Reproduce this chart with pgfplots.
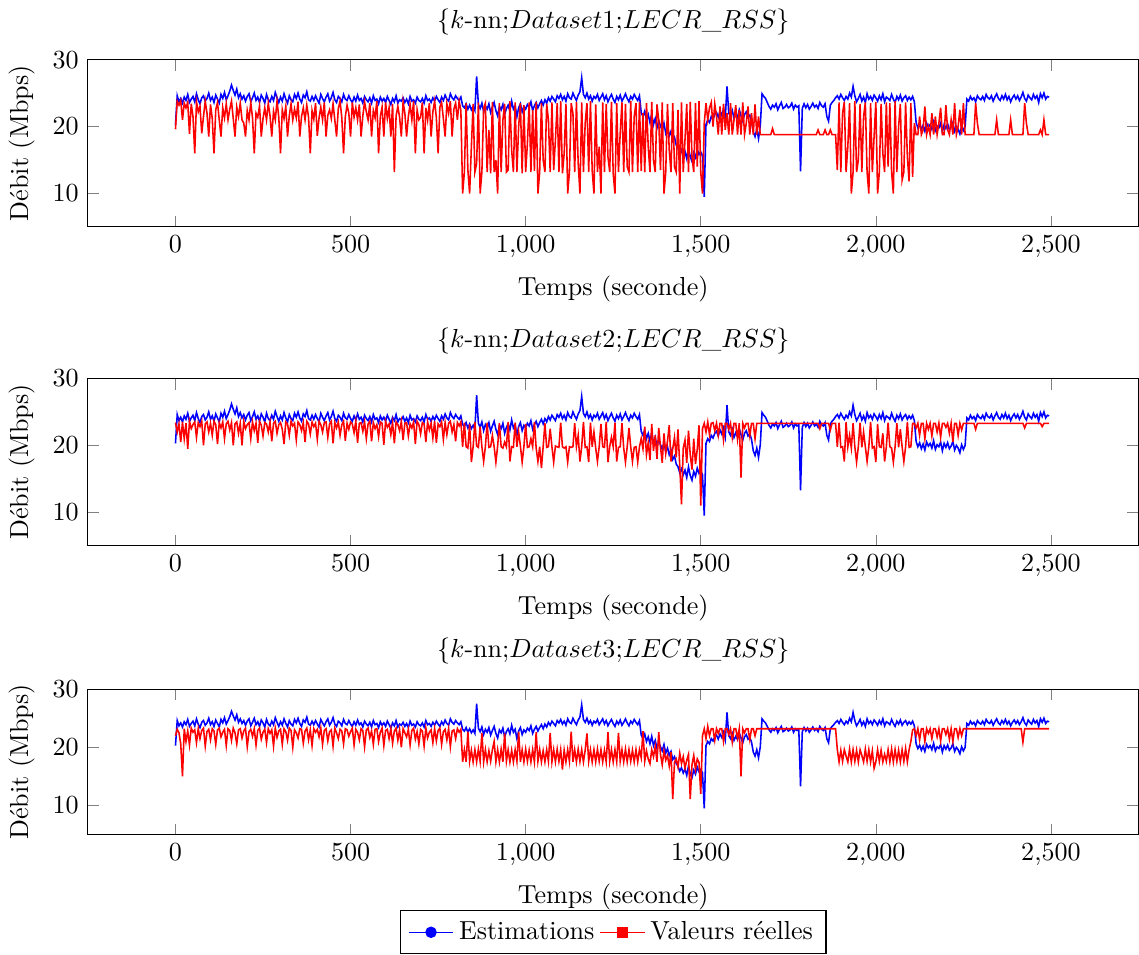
\documentclass[border=0pt]{standalone}
\usepackage{pgfplots}
\usepackage{pgfplotstable}
\pgfplotsset{compat=1.18}

% Estimations (same in the three panels)
\pgfplotstableread[row sep=\\]{t y\\
0 20.3\\5 24.6\\10 23.7\\15 24.2\\20 23.5\\25 24.4\\30 23.9\\35 24.8\\40 23.6\\45 24.1\\
50 24.5\\55 23.7\\60 24.9\\65 24.0\\70 23.4\\75 24.3\\80 24.6\\85 23.8\\90 24.2\\95 25.0\\
100 23.9\\105 24.4\\110 23.6\\115 24.7\\120 24.1\\125 23.5\\130 24.8\\135 24.2\\140 25.1\\145 24.0\\
150 24.6\\155 25.3\\160 26.2\\165 25.4\\170 24.7\\175 25.6\\180 24.3\\185 24.9\\190 24.1\\195 24.6\\
200 23.8\\205 24.5\\210 24.9\\215 23.7\\220 24.3\\225 25.0\\230 23.9\\235 24.4\\240 23.6\\245 24.7\\
250 24.2\\255 23.5\\260 24.8\\265 24.0\\270 23.7\\275 24.5\\280 23.9\\285 25.1\\290 24.3\\295 23.6\\
300 24.4\\305 23.8\\310 24.9\\315 24.1\\320 23.5\\325 24.6\\330 24.0\\335 23.7\\340 24.8\\345 24.2\\
350 25.0\\355 24.1\\360 23.6\\365 24.7\\370 24.3\\375 25.2\\380 24.0\\385 23.8\\390 24.5\\395 23.9\\
400 24.6\\405 24.0\\410 23.5\\415 24.8\\420 24.2\\425 23.7\\430 24.4\\435 24.9\\440 23.8\\445 24.3\\
450 25.1\\455 24.0\\460 23.6\\465 24.5\\470 24.2\\475 23.7\\480 24.8\\485 24.1\\490 23.9\\495 24.6\\
500 24.0\\505 23.6\\510 24.4\\515 23.8\\520 24.7\\525 23.9\\530 24.2\\535 23.5\\540 24.5\\545 24.0\\
550 23.7\\555 24.3\\560 23.5\\565 24.6\\570 23.9\\575 24.1\\580 23.4\\585 24.4\\590 23.8\\595 24.2\\
600 23.6\\605 24.5\\610 23.9\\615 23.3\\620 24.2\\625 23.7\\630 24.6\\635 23.5\\640 24.0\\645 23.8\\
650 24.3\\655 23.6\\660 24.1\\665 23.4\\670 24.5\\675 23.8\\680 24.0\\685 23.5\\690 24.4\\695 23.9\\
700 23.7\\705 24.2\\710 23.5\\715 24.6\\720 23.9\\725 24.1\\730 23.6\\735 24.3\\740 23.8\\745 24.5\\
750 24.0\\755 23.6\\760 24.4\\765 23.9\\770 24.7\\775 24.1\\780 23.8\\785 24.9\\790 24.3\\795 24.0\\
800 24.6\\805 24.2\\810 23.9\\815 24.4\\820 23.1\\825 22.8\\830 23.4\\835 22.6\\840 23.2\\845 22.5\\
850 23.0\\855 22.4\\860 27.5\\865 23.3\\870 22.7\\875 23.5\\880 22.2\\885 23.1\\890 22.6\\895 23.4\\
900 22.1\\905 22.9\\910 23.6\\915 22.4\\920 21.6\\925 23.0\\930 22.5\\935 23.3\\940 21.8\\945 22.7\\
950 23.2\\955 22.3\\960 23.8\\965 22.6\\970 23.1\\975 21.5\\980 22.8\\985 23.4\\990 22.2\\995 23.0\\
1000 22.6\\1005 23.3\\1010 22.9\\1015 23.7\\1020 22.4\\1025 23.1\\1030 23.6\\1035 22.8\\1040 23.4\\1045 23.9\\
1050 23.2\\1055 24.0\\1060 23.5\\1065 24.3\\1070 23.8\\1075 24.5\\1080 24.1\\1085 23.7\\1090 24.6\\1095 24.2\\
1100 24.8\\1105 24.0\\1110 24.5\\1115 23.8\\1120 24.9\\1125 24.3\\1130 24.1\\1135 25.0\\1140 24.4\\1145 23.9\\
1150 24.7\\1155 25.2\\1160 27.3\\1165 24.8\\1170 24.3\\1175 25.0\\1180 24.1\\1185 24.6\\1190 23.8\\1195 24.5\\
1200 24.2\\1205 24.8\\1210 23.9\\1215 24.4\\1220 24.9\\1225 24.0\\1230 24.6\\1235 23.7\\1240 24.3\\1245 24.8\\
1250 24.1\\1255 23.6\\1260 24.5\\1265 24.0\\1270 24.7\\1275 23.8\\1280 24.3\\1285 24.9\\1290 24.2\\1295 23.7\\
1300 24.5\\1305 24.1\\1310 24.8\\1315 24.3\\1320 23.9\\1325 24.6\\1330 22.1\\1335 21.5\\1340 22.3\\1345 21.0\\
1350 21.8\\1355 20.6\\1360 21.9\\1365 20.3\\1370 21.2\\1375 19.8\\1380 20.9\\1385 20.1\\1390 19.4\\1395 20.5\\
1400 19.0\\1405 19.8\\1410 18.6\\1415 19.3\\1420 17.9\\1425 18.4\\1430 17.2\\1435 16.8\\1440 15.9\\1445 16.5\\
1450 15.6\\1455 16.3\\1460 15.2\\1465 16.8\\1470 15.5\\1475 14.8\\1480 16.1\\1485 15.4\\1490 16.6\\1495 15.8\\
1500 16.2\\1505 15.6\\1510 9.5\\1515 20.3\\1520 21.0\\1525 20.6\\1530 21.5\\1535 21.1\\1540 21.8\\1545 22.1\\
1550 21.4\\1555 22.3\\1560 21.7\\1565 22.6\\1570 21.3\\1575 26.0\\1580 22.0\\1585 21.5\\1590 22.4\\1595 21.2\\
1600 21.9\\1605 21.3\\1610 22.5\\1615 21.6\\1620 20.8\\1625 21.8\\1630 22.2\\1635 21.4\\1640 21.7\\1645 20.9\\
1650 19.2\\1655 18.5\\1660 19.6\\1665 18.2\\1670 20.1\\1675 24.9\\1680 24.5\\1685 24.2\\1690 23.6\\1695 23.0\\
1700 22.6\\1705 23.2\\1710 22.9\\1715 23.4\\1720 22.5\\1725 23.1\\1730 23.6\\1735 22.7\\1740 22.9\\1745 23.3\\
1750 22.8\\1755 23.0\\1760 23.5\\1765 22.6\\1770 23.2\\1775 22.9\\1780 23.1\\1785 13.3\\1790 22.7\\1795 23.4\\
1800 22.8\\1805 23.3\\1810 22.6\\1815 23.0\\1820 23.5\\1825 22.9\\1830 23.2\\1835 22.7\\1840 23.6\\1845 23.1\\
1850 22.9\\1855 23.4\\1860 21.5\\1865 20.8\\1870 23.2\\1875 23.6\\1880 23.9\\1885 24.3\\1890 24.6\\1895 24.1\\
1900 24.8\\1905 24.3\\1910 23.9\\1915 24.5\\1920 24.1\\1925 25.0\\1930 24.4\\1935 26.0\\1940 24.6\\1945 23.7\\
1950 24.2\\1955 24.8\\1960 23.8\\1965 24.4\\1970 23.6\\1975 24.9\\1980 24.1\\1985 24.5\\1990 23.9\\1995 24.7\\
2000 24.3\\2005 23.8\\2010 24.6\\2015 24.0\\2020 24.9\\2025 23.7\\2030 24.4\\2035 24.2\\2040 23.9\\2045 24.8\\
2050 24.1\\2055 23.6\\2060 24.5\\2065 24.0\\2070 24.7\\2075 23.8\\2080 24.3\\2085 24.6\\2090 23.9\\2095 24.4\\
2100 24.0\\2105 24.5\\2110 23.7\\2115 20.6\\2120 19.8\\2125 20.4\\2130 19.5\\2135 20.2\\2140 19.3\\2145 20.5\\
2150 19.9\\2155 20.3\\2160 19.6\\2165 20.7\\2170 19.4\\2175 20.1\\2180 19.8\\2185 20.5\\2190 19.2\\2195 20.3\\
2200 19.7\\2205 20.4\\2210 19.5\\2215 19.9\\2220 20.6\\2225 19.3\\2230 20.0\\2235 19.6\\2240 18.9\\2245 20.1\\
2250 19.4\\2255 20.0\\2260 24.1\\2265 23.8\\2270 24.5\\2275 24.0\\2280 24.3\\2285 23.7\\2290 24.6\\2295 24.2\\
2300 24.0\\2305 24.5\\2310 23.9\\2315 24.8\\2320 24.3\\2325 24.1\\2330 24.6\\2335 23.8\\2340 24.4\\2345 24.9\\
2350 24.2\\2355 23.9\\2360 24.6\\2365 24.1\\2370 24.8\\2375 24.0\\2380 24.5\\2385 23.7\\2390 24.3\\2395 24.7\\
2400 24.1\\2405 24.6\\2410 23.9\\2415 24.4\\2420 25.1\\2425 24.2\\2430 23.8\\2435 24.7\\2440 24.3\\2445 24.0\\
2450 24.8\\2455 24.2\\2460 24.6\\2465 23.6\\2470 24.9\\2475 24.3\\2480 25.0\\2485 24.1\\2490 24.5\\2495 24.4\\
}\est

% Valeurs reelles, Dataset1
\pgfplotstableread[row sep=\\]{t y\\
0 19.6\\5 23.8\\10 23.2\\15 23.9\\20 21.0\\25 23.5\\30 22.8\\35 23.6\\40 18.9\\45 23.4\\
50 21.5\\55 16.0\\60 23.7\\65 22.2\\70 23.0\\75 19.0\\80 21.5\\85 23.8\\90 22.0\\95 18.5\\
100 23.3\\105 21.2\\110 16.0\\115 22.5\\120 23.6\\125 21.0\\130 18.5\\135 22.8\\140 21.3\\145 23.4\\
150 21.0\\155 22.6\\160 23.8\\165 21.2\\170 18.5\\175 22.9\\180 21.5\\185 23.5\\190 21.0\\195 20.5\\
200 18.5\\205 22.4\\210 21.0\\215 23.6\\220 21.3\\225 16.0\\230 22.0\\235 21.4\\240 23.1\\245 18.5\\
250 21.2\\255 22.8\\260 21.0\\265 23.5\\270 21.6\\275 18.5\\280 22.3\\285 21.0\\290 23.8\\295 21.4\\
300 16.0\\305 22.5\\310 21.2\\315 23.0\\320 18.5\\325 21.6\\330 23.4\\335 21.0\\340 22.6\\345 21.3\\
350 23.7\\355 18.5\\360 21.5\\365 22.8\\370 21.0\\375 23.2\\380 21.4\\385 16.0\\390 22.4\\395 21.1\\
400 23.5\\405 18.6\\410 21.3\\415 22.9\\420 21.0\\425 23.6\\430 18.5\\435 21.7\\440 22.5\\445 21.2\\
450 23.4\\455 21.0\\460 18.5\\465 22.7\\470 23.8\\475 21.3\\480 16.0\\485 21.5\\490 23.2\\495 22.0\\
500 18.5\\505 23.6\\510 21.4\\515 22.8\\520 21.0\\525 23.3\\530 18.5\\535 21.6\\540 23.7\\545 22.2\\
550 21.0\\555 23.5\\560 18.5\\565 22.4\\570 21.3\\575 23.8\\580 16.0\\585 21.5\\590 22.9\\595 18.5\\
600 23.6\\605 21.2\\610 22.8\\615 18.5\\620 23.4\\625 13.2\\630 21.6\\635 23.0\\640 21.4\\645 18.5\\
650 23.7\\655 22.0\\660 18.5\\665 21.5\\670 23.3\\675 21.0\\680 23.8\\685 16.0\\690 22.5\\695 21.0\\
700 21.4\\705 23.6\\710 16.0\\715 22.8\\720 21.0\\725 23.5\\730 18.5\\735 22.2\\740 23.8\\745 21.3\\
750 16.0\\755 22.9\\760 23.6\\765 21.2\\770 18.5\\775 23.4\\780 22.0\\785 23.8\\790 18.5\\795 22.6\\
800 23.5\\805 21.0\\810 23.8\\815 22.4\\
820 10.0\\825 13.2\\830 23.5\\835 13.5\\840 10.0\\845 17.0\\850 23.4\\855 13.2\\860 14.5\\865 23.6\\
870 10.0\\875 13.2\\880 22.8\\885 23.5\\890 13.2\\895 19.5\\900 13.0\\905 23.7\\910 13.2\\915 15.0\\
920 10.0\\925 23.5\\930 13.2\\935 21.0\\940 23.4\\945 13.2\\950 13.5\\955 23.8\\960 16.5\\965 13.2\\
970 23.6\\975 13.2\\980 20.0\\985 23.5\\990 13.0\\995 23.2\\1000 13.2\\1005 17.5\\1010 23.6\\1015 13.2\\
1020 22.5\\1025 13.4\\1030 23.7\\1035 10.0\\1040 13.2\\1045 23.5\\1050 15.0\\1055 13.2\\1060 23.4\\1065 21.0\\
1070 13.2\\1075 23.6\\1080 13.5\\1085 18.0\\1090 23.5\\1095 13.2\\1100 23.8\\1105 13.0\\1110 16.0\\1115 23.4\\
1120 10.0\\1125 13.2\\1130 23.5\\1135 22.0\\1140 13.2\\1145 23.7\\1150 14.5\\1155 10.0\\1160 23.6\\1165 13.2\\
1170 20.5\\1175 23.5\\1180 13.2\\1185 23.8\\1190 13.4\\1195 10.0\\1200 23.3\\1205 13.2\\1210 17.0\\1215 10.0\\
1220 23.6\\1225 13.2\\1230 23.4\\1235 15.5\\1240 13.2\\1245 23.7\\1250 13.0\\1255 10.0\\1260 23.5\\1265 13.2\\
1270 19.0\\1275 23.6\\1280 13.2\\1285 23.4\\1290 14.0\\1295 13.2\\1300 23.8\\1305 13.2\\1310 21.5\\1315 23.5\\
1320 13.2\\1325 23.6\\1330 13.4\\1335 22.0\\1340 13.2\\1345 23.5\\1350 17.0\\1355 13.2\\1360 23.7\\1365 15.0\\
1370 13.2\\1375 23.3\\1380 21.0\\1385 13.5\\1390 23.6\\1395 10.0\\1400 13.2\\1405 23.4\\1410 16.5\\1415 13.2\\
1420 23.5\\1425 14.0\\1430 13.2\\1435 22.5\\1440 10.0\\1445 23.6\\1450 13.2\\1455 18.0\\1460 23.4\\1465 13.2\\
1470 23.7\\1475 15.5\\1480 13.2\\1485 23.5\\1490 14.0\\1495 23.8\\1500 13.2\\1505 10.0\\
1510 20.5\\1515 23.5\\1520 21.0\\1525 22.8\\1530 23.6\\1535 20.0\\1540 23.4\\1545 21.5\\1550 18.8\\1555 23.0\\
1560 18.8\\1565 23.4\\1570 19.5\\1575 22.0\\1580 18.8\\1585 23.5\\1590 18.8\\1595 21.0\\1600 23.2\\1605 18.8\\
1610 22.5\\1615 18.8\\1620 23.6\\1625 18.8\\1630 20.5\\1635 23.0\\1640 18.8\\1645 22.0\\1650 18.8\\1655 23.3\\
1660 18.8\\1665 21.5\\1670 18.8\\1700 18.8\\1705 19.7\\1710 18.8\\1830 18.8\\1835 19.5\\1840 18.8\\1850 18.8\\
1855 19.5\\1860 18.8\\1865 18.8\\1870 19.5\\1875 18.8\\1885 18.8\\
1890 13.5\\1895 23.6\\1900 13.2\\1905 22.0\\1910 23.7\\1915 13.2\\1920 17.0\\1925 23.5\\1930 10.0\\1935 13.2\\
1940 23.8\\1945 13.2\\1950 15.0\\1955 23.4\\1960 13.2\\1965 21.5\\1970 23.6\\1975 13.2\\1980 10.0\\1985 23.5\\
1990 13.2\\1995 18.5\\2000 23.7\\2005 10.0\\2010 13.2\\2015 23.4\\2020 16.0\\2025 13.2\\2030 23.6\\2035 14.0\\
2040 23.5\\2045 13.2\\2050 10.0\\2055 23.8\\2060 13.2\\2065 20.0\\2070 23.4\\2075 12.0\\2080 13.2\\2085 23.6\\
2090 15.5\\2095 11.8\\2100 23.5\\2105 12.5\\
2110 20.5\\2115 18.8\\2120 18.8\\2125 21.5\\2130 18.8\\2135 19.5\\2140 23.0\\2145 18.8\\2150 20.0\\2155 18.8\\
2160 22.0\\2165 18.8\\2170 21.5\\2175 18.8\\2180 20.5\\2185 22.8\\2190 18.8\\2195 18.8\\2200 23.2\\2205 19.5\\
2210 18.8\\2215 21.0\\2220 18.8\\2225 23.5\\2230 18.8\\2235 20.0\\2240 22.5\\2245 18.8\\2250 23.5\\2255 18.8\\
2260 18.8\\2280 18.8\\2285 23.5\\2290 20.5\\2295 18.8\\2340 18.8\\2345 21.0\\2350 18.8\\2380 18.8\\2385 21.0\\
2390 18.8\\2420 18.8\\2425 23.5\\2430 20.5\\2435 18.8\\2465 18.8\\2470 19.5\\2475 18.8\\2480 21.0\\2485 18.8\\
2495 18.8\\
}\ra

% Valeurs reelles, Dataset2
\pgfplotstableread[row sep=\\]{t y\\
0 23.4\\5 22.0\\10 23.2\\15 20.5\\20 23.5\\25 21.0\\30 23.3\\35 19.5\\40 23.6\\45 22.5\\
50 23.1\\55 23.5\\60 21.2\\65 23.4\\70 22.8\\75 23.6\\80 20.0\\85 23.2\\90 23.5\\95 22.0\\
100 23.3\\105 21.5\\110 23.6\\115 23.1\\120 20.2\\125 23.4\\130 22.6\\135 23.5\\140 21.0\\145 23.2\\
150 23.6\\155 22.3\\160 23.4\\165 20.0\\170 23.2\\175 23.5\\180 21.8\\185 23.3\\190 20.0\\195 23.6\\
200 22.5\\205 23.1\\210 23.4\\215 21.0\\220 23.5\\225 22.2\\230 23.3\\235 20.4\\240 23.6\\245 23.0\\
250 21.4\\255 23.4\\260 23.2\\265 22.0\\270 23.5\\275 20.6\\280 23.3\\285 23.6\\290 21.8\\295 23.1\\
300 23.4\\305 22.4\\310 20.2\\315 23.5\\320 23.2\\325 21.5\\330 23.6\\335 22.9\\340 23.3\\345 20.8\\
350 23.5\\355 23.1\\360 22.2\\365 23.4\\370 20.5\\375 23.6\\380 23.2\\385 21.7\\390 23.5\\395 22.8\\
400 23.3\\405 20.9\\410 23.6\\415 23.1\\420 22.0\\425 23.4\\430 23.5\\435 21.2\\440 23.2\\445 23.6\\
450 20.3\\455 23.4\\460 22.6\\465 23.5\\470 21.5\\475 23.1\\480 23.6\\485 20.7\\490 23.3\\495 22.4\\
500 23.5\\505 23.2\\510 21.9\\515 23.6\\520 20.4\\525 23.3\\530 23.4\\535 22.1\\540 23.5\\545 21.0\\
550 23.2\\555 23.6\\560 20.6\\565 23.4\\570 22.5\\575 23.1\\580 21.3\\585 23.5\\590 23.3\\595 20.1\\
600 23.6\\605 22.7\\610 23.2\\615 21.6\\620 23.4\\625 20.3\\630 23.5\\635 23.1\\640 22.2\\645 23.6\\
650 20.8\\655 23.3\\660 23.4\\665 21.4\\670 23.2\\675 22.6\\680 23.5\\685 20.2\\690 23.6\\695 23.1\\
700 21.7\\705 23.4\\710 23.2\\715 20.5\\720 23.5\\725 22.3\\730 23.3\\735 21.1\\740 23.6\\745 20.4\\
750 23.2\\755 22.8\\760 23.5\\765 20.9\\770 23.4\\775 21.6\\780 23.3\\785 23.6\\790 22.0\\795 23.1\\
800 20.6\\805 23.4\\810 22.9\\815 23.5\\
820 19.8\\825 23.4\\830 19.8\\835 19.6\\840 23.2\\845 17.5\\850 19.8\\855 23.5\\860 19.9\\865 19.7\\
870 22.8\\875 19.8\\880 17.6\\885 19.8\\890 23.4\\895 19.7\\900 19.8\\905 21.5\\910 19.8\\915 17.5\\
920 19.9\\925 23.3\\930 19.8\\935 19.6\\940 20.5\\945 19.8\\950 23.5\\955 17.6\\960 19.8\\965 19.7\\
970 23.4\\975 19.8\\980 22.0\\985 19.9\\990 17.5\\995 19.8\\1000 23.2\\1005 19.7\\1010 19.8\\1015 21.0\\
1020 19.8\\1025 23.5\\1030 19.6\\1035 17.6\\1040 19.8\\1045 16.6\\1050 19.8\\1055 23.3\\1060 19.7\\1065 19.8\\
1070 22.5\\1075 19.8\\1080 17.5\\1085 19.9\\1090 19.8\\1095 19.7\\1100 23.4\\1105 19.8\\1110 19.6\\1115 19.8\\
1120 17.5\\1125 19.8\\1130 19.7\\1135 19.8\\1140 23.3\\1145 19.8\\1150 21.5\\1155 17.6\\1160 19.8\\1165 23.5\\
1170 19.7\\1175 19.8\\1180 17.5\\1185 23.4\\1190 19.8\\1195 22.0\\1200 19.6\\1205 17.6\\1210 19.8\\1215 23.2\\
1220 19.8\\1225 19.7\\1230 23.5\\1235 17.5\\1240 19.8\\1245 21.2\\1250 19.8\\1255 23.4\\1260 17.6\\1265 19.7\\
1270 19.8\\1275 23.3\\1280 19.6\\1285 17.5\\1290 19.8\\1295 22.6\\1300 19.8\\1305 17.6\\1310 19.7\\1315 19.8\\
1320 17.5\\1325 19.8\\
1330 21.0\\1335 19.5\\1340 22.8\\1345 18.6\\1350 20.4\\1355 17.8\\1360 23.2\\1365 19.2\\1370 21.5\\1375 18.0\\
1380 22.6\\1385 19.8\\1390 17.4\\1395 21.8\\1400 18.8\\1405 20.6\\1410 23.0\\1415 17.6\\1420 19.5\\1425 21.2\\
1430 18.2\\1435 22.4\\1440 17.0\\1445 11.2\\1450 19.6\\1455 20.8\\1460 17.4\\1465 22.2\\1470 18.6\\1475 16.4\\
1480 21.0\\1485 17.2\\1490 19.4\\1495 23.0\\1500 11.0\\1505 22.5\\
1510 23.3\\1515 22.0\\1520 23.5\\1525 21.6\\1530 23.3\\1535 23.4\\1540 22.2\\1545 23.3\\1550 21.5\\1555 23.3\\
1560 23.3\\1565 20.8\\1570 23.3\\1575 23.3\\1580 22.4\\1585 23.3\\1590 21.2\\1595 23.3\\1600 23.3\\1605 20.9\\
1610 23.3\\1615 15.2\\1620 23.3\\1625 22.6\\1630 23.3\\1635 23.3\\1640 21.4\\1645 23.3\\1650 23.3\\1655 21.0\\
1660 23.3\\1835 23.3\\1840 22.5\\1845 23.3\\1865 23.3\\1870 22.3\\1875 23.3\\1885 23.3\\
1890 19.8\\1895 23.4\\1900 19.7\\1905 19.8\\1910 17.6\\1915 23.5\\1920 19.8\\1925 21.5\\1930 19.6\\1935 23.3\\
1940 19.8\\1945 17.5\\1950 19.8\\1955 23.4\\1960 19.7\\1965 22.0\\1970 19.8\\1975 17.6\\1980 19.8\\1985 23.5\\
1990 19.6\\1995 19.8\\2000 17.5\\2005 23.2\\2010 19.8\\2015 19.7\\2020 21.8\\2025 17.6\\2030 19.8\\2035 23.4\\
2040 19.8\\2045 19.6\\2050 17.5\\2055 19.8\\2060 23.3\\2065 19.7\\2070 22.4\\2075 19.8\\2080 17.6\\2085 19.8\\
2090 23.5\\2095 19.7\\2100 19.8\\2105 23.3\\
2110 23.3\\2115 22.6\\2120 23.3\\2125 21.5\\2130 23.3\\2135 23.3\\2140 21.0\\2145 23.3\\2150 22.4\\2155 23.3\\
2160 21.4\\2165 23.3\\2170 23.3\\2175 22.0\\2180 23.3\\2185 21.2\\2190 23.3\\2195 23.3\\2200 22.7\\2205 23.3\\
2210 21.8\\2215 23.3\\2220 20.5\\2225 23.3\\2230 23.3\\2235 21.5\\2240 23.3\\2245 22.3\\2250 23.3\\2255 23.3\\
2260 23.3\\2280 23.3\\2285 22.4\\2290 23.3\\2420 23.3\\2425 22.6\\2430 23.3\\2470 23.3\\2475 22.8\\2480 23.3\\
2495 23.3\\
}\rb

% Valeurs reelles, Dataset3
\pgfplotstableread[row sep=\\]{t y\\
0 22.0\\5 23.1\\10 22.5\\15 20.6\\20 15.0\\25 23.2\\30 21.0\\35 22.8\\40 20.4\\45 23.3\\
50 22.6\\55 23.0\\60 20.8\\65 23.2\\70 21.5\\75 22.9\\80 23.3\\85 20.2\\90 22.7\\95 23.1\\
100 21.3\\105 23.2\\110 22.8\\115 20.5\\120 23.0\\125 23.3\\130 21.8\\135 22.6\\140 23.1\\145 20.3\\
150 23.2\\155 22.9\\160 21.2\\165 23.3\\170 22.5\\175 20.6\\180 23.0\\185 23.2\\190 21.6\\195 22.8\\
200 23.3\\205 20.1\\210 22.7\\215 23.1\\220 21.9\\225 23.2\\230 20.4\\235 22.9\\240 23.3\\245 21.4\\
250 22.6\\255 23.1\\260 20.8\\265 23.2\\270 22.4\\275 23.0\\280 20.2\\285 23.3\\290 21.7\\295 22.8\\
300 23.1\\305 20.5\\310 23.2\\315 22.7\\320 21.2\\325 23.3\\330 22.9\\335 20.0\\340 23.0\\345 22.5\\
350 21.6\\355 23.2\\360 23.1\\365 20.7\\370 22.8\\375 23.3\\380 21.3\\385 23.0\\390 20.3\\395 23.2\\
400 22.6\\405 23.1\\410 21.8\\415 23.3\\420 20.5\\425 22.9\\430 23.2\\435 21.1\\440 22.7\\445 23.0\\
450 20.2\\455 23.3\\460 22.5\\465 21.5\\470 23.1\\475 22.8\\480 20.6\\485 23.2\\490 23.0\\495 21.9\\
500 22.7\\505 23.3\\510 20.4\\515 23.1\\520 22.6\\525 21.3\\530 23.2\\535 22.9\\540 20.1\\545 23.0\\
550 23.3\\555 21.7\\560 22.8\\565 20.5\\570 23.1\\575 23.2\\580 21.0\\585 22.6\\590 23.3\\595 20.3\\
600 22.9\\605 23.1\\610 21.5\\615 23.2\\620 20.7\\625 22.8\\630 23.3\\635 21.2\\640 23.0\\645 20.0\\
650 23.2\\655 22.5\\660 21.8\\665 23.1\\670 20.4\\675 22.9\\680 23.3\\685 21.4\\690 22.7\\695 20.6\\
700 23.1\\705 22.8\\710 20.2\\715 23.3\\720 21.6\\725 22.6\\730 23.0\\735 20.8\\740 23.2\\745 21.1\\
750 22.9\\755 23.3\\760 20.5\\765 22.7\\770 23.1\\775 21.3\\780 23.2\\785 20.1\\790 22.8\\795 23.0\\
800 21.5\\805 23.2\\810 22.6\\815 23.1\\
820 17.5\\825 19.6\\830 17.5\\835 22.7\\840 17.6\\845 19.5\\850 17.5\\855 19.6\\860 17.5\\865 19.7\\
870 17.6\\875 22.5\\880 17.5\\885 19.6\\890 17.5\\895 19.4\\900 17.6\\905 19.6\\910 21.0\\915 17.5\\
920 19.6\\925 17.5\\930 19.7\\935 17.5\\940 22.4\\945 17.6\\950 19.6\\955 17.5\\960 19.5\\965 17.5\\
970 19.6\\975 17.6\\980 22.7\\985 17.5\\990 19.6\\995 17.5\\1000 19.7\\1005 17.6\\1010 19.5\\1015 17.5\\
1020 19.6\\1025 17.5\\1030 22.6\\1035 17.6\\1040 19.6\\1045 17.5\\1050 19.4\\1055 17.5\\1060 19.6\\1065 17.6\\
1070 22.5\\1075 17.5\\1080 19.6\\1085 17.5\\1090 19.7\\1095 17.6\\1100 19.6\\1105 16.2\\1110 19.5\\1115 17.5\\
1120 19.6\\1125 17.6\\1130 22.7\\1135 17.5\\1140 19.6\\1145 17.5\\1150 19.7\\1155 17.6\\1160 19.6\\1165 17.5\\
1170 19.5\\1175 22.4\\1180 17.6\\1185 19.6\\1190 17.5\\1195 19.6\\1200 17.5\\1205 19.7\\1210 17.6\\1215 19.6\\
1220 17.5\\1225 19.5\\1230 17.5\\1235 22.6\\1240 17.6\\1245 19.6\\1250 17.5\\1255 19.6\\1260 17.5\\1265 22.5\\
1270 17.6\\1275 19.6\\1280 17.5\\1285 19.7\\1290 17.5\\1295 19.6\\1300 17.6\\1305 19.5\\1310 17.5\\1315 19.6\\
1320 17.5\\1325 19.6\\
1330 18.2\\1335 22.8\\1340 17.6\\1345 19.4\\1350 18.0\\1355 17.2\\1360 19.6\\1365 18.4\\1370 20.2\\1375 17.5\\
1380 22.6\\1385 18.8\\1390 17.0\\1395 19.4\\1400 17.8\\1405 18.6\\1410 16.8\\1415 19.2\\1420 11.1\\1425 17.4\\
1430 18.0\\1435 16.6\\1440 19.0\\1445 17.2\\1450 18.4\\1455 16.4\\1460 17.8\\1465 18.8\\1470 11.1\\1475 17.0\\
1480 18.6\\1485 16.2\\1490 18.0\\1495 17.4\\1500 12.0\\1505 22.0\\
1510 23.2\\1515 21.5\\1520 23.6\\1525 22.0\\1530 23.2\\1535 23.2\\1540 21.2\\1545 23.2\\1550 22.4\\1555 23.2\\
1560 23.2\\1565 21.0\\1570 23.2\\1575 23.2\\1580 22.2\\1585 23.2\\1590 20.9\\1595 23.2\\1600 23.2\\1605 21.6\\
1610 23.2\\1615 15.0\\1620 23.2\\1625 22.5\\1630 23.2\\1635 23.2\\1640 21.3\\1645 23.2\\1650 23.2\\1655 22.0\\
1660 23.2\\1885 23.2\\
1890 19.6\\1895 17.5\\1900 19.5\\1905 17.6\\1910 19.6\\1915 18.5\\1920 17.5\\1925 19.7\\1930 17.5\\1935 19.6\\
1940 17.6\\1945 19.5\\1950 17.5\\1955 19.6\\1960 18.6\\1965 17.5\\1970 19.7\\1975 17.6\\1980 19.6\\1985 17.5\\
1990 19.4\\1995 16.4\\2000 17.5\\2005 19.6\\2010 17.6\\2015 19.5\\2020 17.5\\2025 18.8\\2030 17.6\\2035 19.6\\
2040 17.5\\2045 19.7\\2050 17.5\\2055 19.6\\2060 17.6\\2065 19.5\\2070 17.5\\2075 19.6\\2080 17.6\\2085 19.8\\
2090 17.5\\2095 19.6\\2100 21.0\\2105 23.0\\
2110 23.2\\2115 22.0\\2120 23.2\\2125 21.3\\2130 23.2\\2135 23.2\\2140 21.0\\2145 23.2\\2150 22.4\\2155 23.2\\
2160 21.5\\2165 23.2\\2170 23.2\\2175 21.8\\2180 23.2\\2185 21.1\\2190 23.2\\2195 23.2\\2200 22.2\\2205 23.2\\
2210 21.4\\2215 23.2\\2220 21.0\\2225 23.2\\2230 23.2\\2235 21.7\\2240 23.2\\2245 22.0\\2250 23.2\\2255 23.2\\
2260 23.2\\2415 23.2\\2420 20.9\\2425 23.2\\2495 23.2\\
}\rc

\pgfplotsset{
  panel/.style={
    scale only axis,
    width=403pt,
    xmin=-250, xmax=2750,
    ymin=5, ymax=30,
    ytick={10,20,30},
    xtick={0,500,1000,1500,2000,2500},
    xlabel={Temps (seconde)},
    ylabel={Débit (Mbps)},
    every axis plot/.append style={line width=0.6pt},
  }
}

\begin{document}
\begin{tikzpicture}
\begin{axis}[panel, height=64.2pt, at={(0,0)}, anchor=north west,
  title={\{$k$-nn;$Dataset1$;$LECR\_RSS$\}}]
\addplot[blue] table {\est};
\addplot[red] table {\ra};
\end{axis}

\begin{axis}[panel, height=64.2pt, at={(0,-122.3pt)}, anchor=north west,
  title={\{$k$-nn;$Dataset2$;$LECR\_RSS$\}}]
\addplot[blue] table {\est};
\addplot[red] table {\rb};
\end{axis}

\begin{axis}[panel, height=55.8pt, at={(0,-241.5pt)}, anchor=north west,
  title={\{$k$-nn;$Dataset3$;$LECR\_RSS$\}},
  legend columns=2,
  legend style={at={(0.5,-0.52)}, anchor=north, line width=0.4pt}]
\addplot[blue, forget plot] table {\est};
\addplot[red, forget plot] table {\rc};
\addlegendimage{blue, mark=*, line width=0.4pt}
\addlegendentry{Estimations}
\addlegendimage{red, mark=square*, line width=0.4pt}
\addlegendentry{Valeurs réelles}
\end{axis}
\end{tikzpicture}
\end{document}
